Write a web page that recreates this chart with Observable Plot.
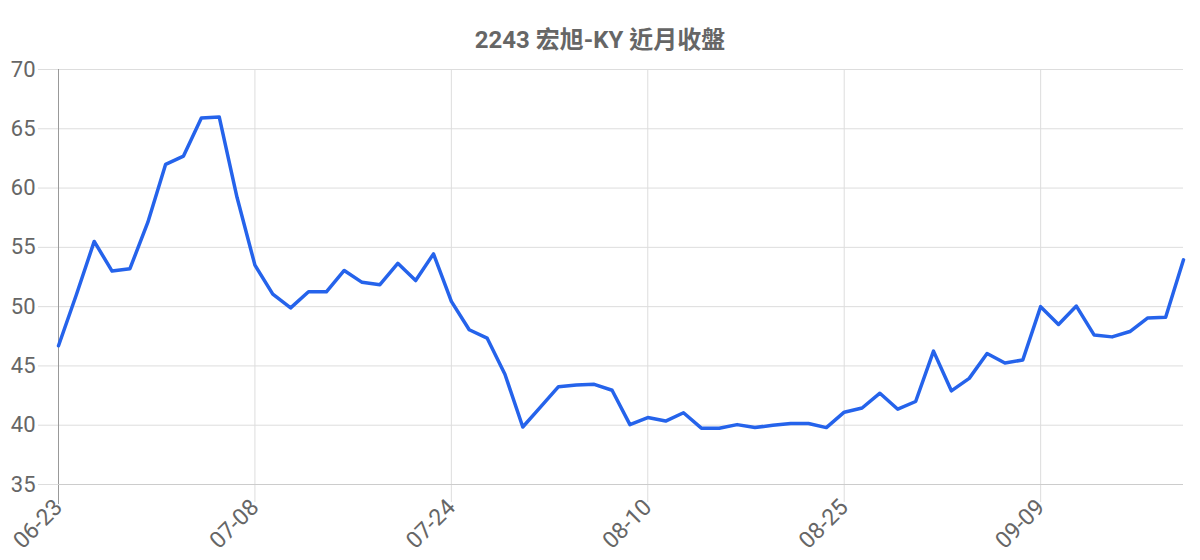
<!DOCTYPE html>
<html>
<head>
<meta charset="utf-8">
<script src="https://cdn.jsdelivr.net/npm/d3@7"></script>
<script src="https://cdn.jsdelivr.net/npm/@observablehq/plot@0.6"></script>
<style>
  body { margin: 0; background: #fff; position: relative; }
  #title { position: absolute; left: 0; top: 20px; width: 1200px; line-height: 30px; text-align: center;
           font: bold 24px Roboto, "Noto Sans CJK TC", sans-serif; color: #666; }
</style>
</head>
<body>
<div id="chart"></div>
<div id="title">2243 宏旭-KY 近月收盤</div>
<script>
const closes = [46.7, 51.0, 55.5, 53.0, 53.2, 57.1, 62.0, 62.7, 65.9, 66.0,
  59.2, 53.5, 51.05, 49.9, 51.25, 51.25, 53.05, 52.05, 51.85, 53.65,
  52.2, 54.45, 50.45, 48.05, 47.35, 44.3, 39.85, 41.55, 43.25, 43.4,
  43.45, 42.95, 40.05, 40.65, 40.35, 41.05, 39.75, 39.75, 40.05, 39.8,
  40.0, 40.15, 40.15, 39.8, 41.1, 41.45, 42.7, 41.35, 42.0, 46.25,
  42.9, 43.95, 46.05, 45.25, 45.5, 50.0, 48.5, 50.05, 47.6, 47.45,
  47.9, 49.05, 49.1, 53.95];
const xTickIndex = [0, 11, 22, 33, 44, 55];
const xTickLabels = ["06-23", "07-08", "07-24", "08-10", "08-25", "09-09"];
const yTicks = [35, 40, 45, 50, 55, 60, 65, 70];

const data = closes.map((v, i) => ({i, v}));
const labelOf = i => xTickLabels[xTickIndex.indexOf(i)];

const chart = Plot.plot({
  width: 1200,
  height: 560,
  marginTop: 69,
  marginBottom: 76,
  marginLeft: 58,
  marginRight: 17,
  style: {fontFamily: "Roboto, 'Noto Sans CJK TC', sans-serif", background: "#fff"},
  x: {domain: [0, closes.length - 1]},
  y: {domain: [35, 70]},
  marks: [
    Plot.gridY({ticks: yTicks, stroke: "#ddd", strokeOpacity: 1}),
    Plot.gridX({ticks: xTickIndex, stroke: "#ddd", strokeOpacity: 1}),
    Plot.axisY({ticks: yTicks, tickSize: 20, tickPadding: 3, stroke: "#ddd", fill: "#666", fontSize: 22, label: null}),
    Plot.axisX({ticks: xTickIndex, tickFormat: labelOf, tickRotate: -45, tickSize: 18, tickPadding: 1,
                stroke: "#ddd", fill: "#666", fontSize: 23, label: null}),
    Plot.axisX({ticks: [0], tickFormat: () => "", tickSize: 20, stroke: "#999", label: null}),
    Plot.ruleY([35], {stroke: "#ccc"}),
    Plot.ruleX([0], {stroke: "#999"}),
    Plot.lineY(data, {x: "i", y: "v", stroke: "#2563eb", strokeWidth: 3.5})
  ]
});
document.getElementById("chart").appendChild(chart);
</script>
</body>
</html>
